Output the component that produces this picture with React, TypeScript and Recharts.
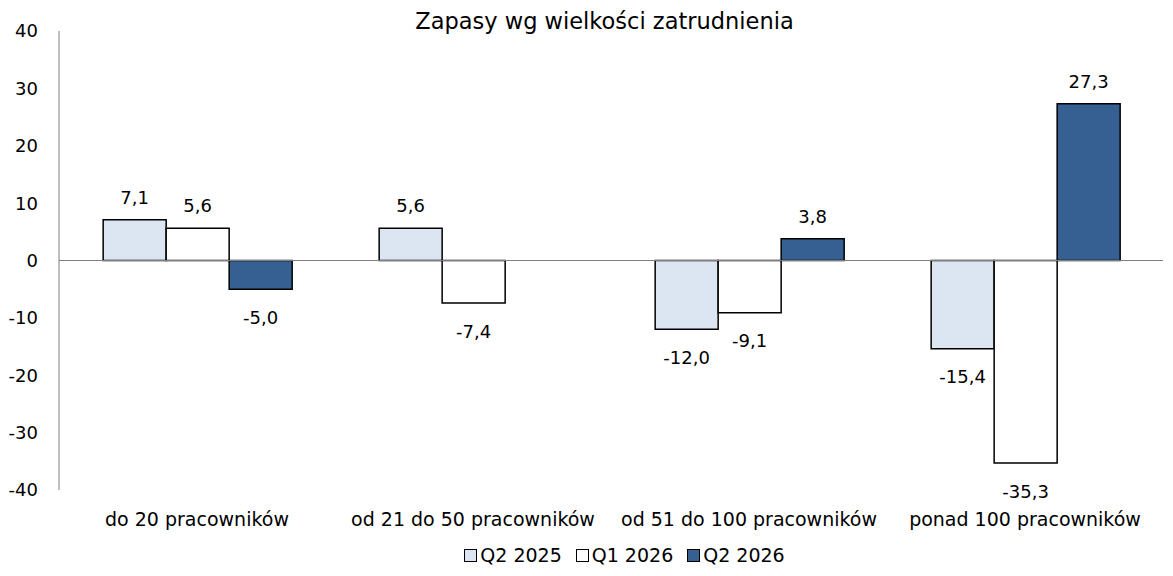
import React from "react";
import { BarChart, Bar, XAxis, YAxis, Legend, ReferenceLine, LabelList } from "recharts";

const categories = ["do 20 pracowników", "od 21 do 50 pracowników", "od 51 do 100 pracowników", "ponad 100 pracowników"];
const q2_2025 = [7.1, 5.6, -12.0, -15.4];
const q1_2026 = [5.6, -7.4, -9.1, -35.3];
const q2_2026 = [-5.0, 0.0, 3.8, 27.3];
const yTicks = [-40, -30, -20, -10, 0, 10, 20, 30, 40];

const series = [
  { key: "q2_2025", name: "Q2 2025", fill: "#DCE6F2" },
  { key: "q1_2026", name: "Q1 2026", fill: "#FFFFFF" },
  { key: "q2_2026", name: "Q2 2026", fill: "#366092" },
];

const data = categories.map((c, i) => ({
  name: c,
  q2_2025: q2_2025[i],
  q1_2026: q1_2026[i],
  q2_2026: q2_2026[i],
}));

const FONT = "'DejaVu Sans', Verdana, sans-serif";
const fmt = (v: number) => v.toFixed(1).replace(".", ",");

const ValueLabel = (props: any) => {
  const { x, y, width, height, value } = props;
  const top = Math.min(y, y + height);
  const bottom = Math.max(y, y + height);
  const cx = x + width / 2;
  const neg = value < 0;
  return (
    <text
      x={cx}
      y={neg ? bottom + 21 : top - 16}
      textAnchor="middle"
      dominantBaseline={neg ? "hanging" : "auto"}
      fontSize={18}
      fontFamily={FONT}
      fill="#000"
    >
      {fmt(value)}
    </text>
  );
};

const LegendContent = () => (
  <div style={{ display: "flex", justifyContent: "center", fontFamily: FONT, fontSize: 19, color: "#000", paddingTop: 8, paddingLeft: 100 }}>
    {series.map((s) => (
      <span key={s.key} style={{ display: "flex", alignItems: "center", marginRight: 14 }}>
        <span style={{ width: 11, height: 11, background: s.fill, border: "1px solid #000", marginRight: 3, display: "inline-block" }} />
        {s.name}
      </span>
    ))}
  </div>
);

export default function App() {
  return (
    <div style={{ position: "absolute", left: 0, top: 0, width: 1173, height: 576, background: "#fff" }}>
      <div style={{ position: "absolute", top: 8, left: 18, width: 1173, textAlign: "center", fontFamily: FONT, fontSize: 22.5, color: "#000" }}>
        Zapasy wg wielkości zatrudnienia
      </div>
      <BarChart
        width={1173}
        height={576}
        data={data}
        margin={{ top: 31, right: 10, bottom: 0, left: 0 }}
        barCategoryGap="16%"
        barGap={0}
      >
        <XAxis
          dataKey="name"
          axisLine={false}
          tickLine={false}
          height={46}
          tickMargin={17}
          interval={0}
          tick={{ fontSize: 19, fontFamily: FONT, fill: "#000" }}
        />
        <YAxis
          domain={[-40, 40]}
          ticks={yTicks}
          width={59}
          tickLine={false}
          tickSize={0}
          tickMargin={21}
          axisLine={{ stroke: "#7f7f7f" }}
          tick={{ fontSize: 18, fontFamily: FONT, fill: "#000" }}
        />
        <ReferenceLine y={0} stroke="#7f7f7f" />
        {series.map((s) => (
          <Bar key={s.key} dataKey={s.key} name={s.name} fill={s.fill} stroke="#000" strokeWidth={1.5} isAnimationActive={false}>
            <LabelList dataKey={s.key} content={ValueLabel} />
          </Bar>
        ))}
        <Legend verticalAlign="bottom" height={40} content={LegendContent} />
      </BarChart>
    </div>
  );
}
